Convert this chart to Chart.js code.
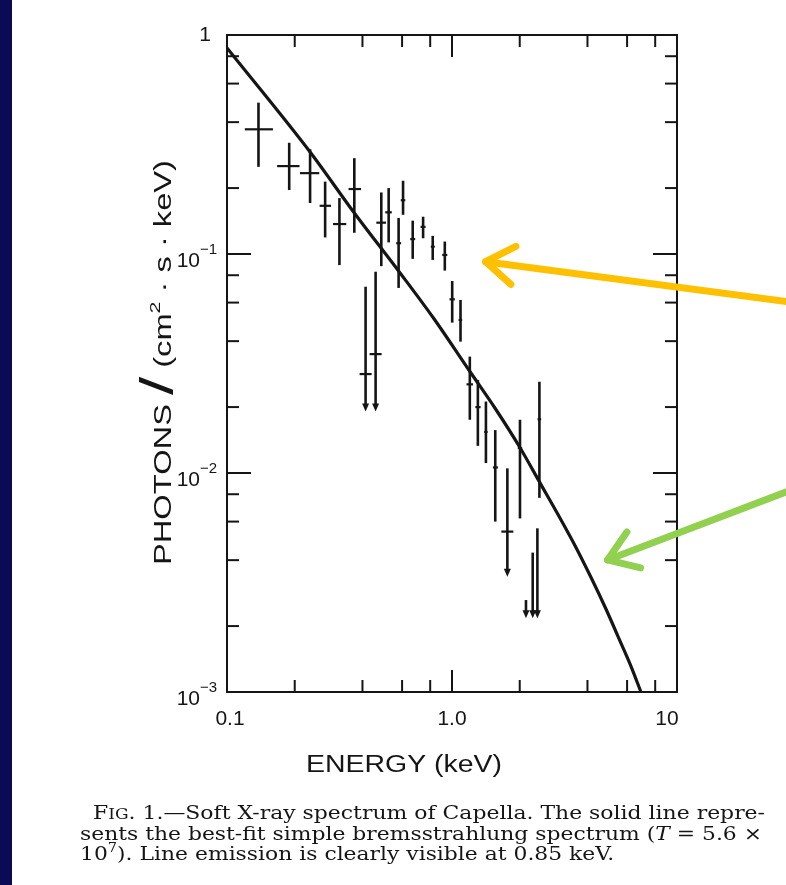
<!DOCTYPE html>
<html>
<head>
<meta charset="utf-8">
<script src="https://cdn.jsdelivr.net/npm/chart.js@4/dist/chart.umd.min.js"></script>
<style>
  html, body { margin: 0; padding: 0; background: #0b0b55; }
  canvas { display: block; }
</style>
</head>
<body>
<canvas id="spectrum" width="786" height="885"></canvas>
<script>
// Measured spectrum points (keV, photons / cm2 s keV) with bin and error limits
const energy   = [0.138, 0.189, 0.234, 0.273, 0.316, 0.368, 0.485, 0.523, 0.579, 0.606, 0.669, 0.744, 0.821, 0.929, 1.002, 1.091, 1.200, 1.303, 1.415, 1.557, 2.005, 2.446];
const energyLo = [0.120, 0.167, 0.211, 0.258, 0.296, 0.347, 0.461, 0.505, 0.565, 0.592, 0.652, 0.725, 0.805, 0.905, 0.975, 1.070, 1.160, 1.270, 1.390, 1.520, 1.960, 2.400];
const energyHi = [0.160, 0.210, 0.257, 0.290, 0.339, 0.394, 0.509, 0.540, 0.594, 0.620, 0.686, 0.763, 0.838, 0.953, 1.030, 1.110, 1.240, 1.340, 1.440, 1.600, 2.050, 2.490];
const flux     = [0.371, 0.252, 0.234, 0.166, 0.137, 0.198, 0.139, 0.155, 0.112, 0.176, 0.117, 0.133, 0.108, 0.099, 0.0621, 0.0500, 0.0254, 0.0200, 0.0154, 0.0106, 0.0130, 0.0176];
const fluxLo   = [0.250, 0.196, 0.171, 0.119, 0.089, 0.125, 0.088, 0.113, 0.070, 0.151, 0.095, 0.118, 0.094, 0.084, 0.0486, 0.0398, 0.0175, 0.0133, 0.0111, 0.0060, 0.0062, 0.0077];
const fluxHi   = [0.491, 0.322, 0.301, 0.214, 0.180, 0.274, 0.191, 0.200, 0.146, 0.216, 0.142, 0.148, 0.121, 0.114, 0.0753, 0.0617, 0.0340, 0.0266, 0.0212, 0.0157, 0.0175, 0.0261];

// Upper limits (arrows pointing down)
const limitEnergy = [0.413, 0.4576, 1.762, 2.132, 2.284, 2.396];
const limitTop    = [0.0709, 0.083, 0.0105, 0.00263, 0.00433, 0.00559];
const limitValue  = [0.0283, 0.0349, 0.0054, null, null, null];
const limitEnd    = [0.0191, 0.0191, 0.00336, 0.00217, 0.00217, 0.00217];

// Best-fit bremsstrahlung curve
const modelEnergy = [0.1, 0.234, 0.368, 0.590, 0.827, 1.197, 1.562, 1.998, 2.479, 2.951, 3.477, 4.140, 4.828, 5.460, 6.240, 6.913];
const modelFlux   = [0.872, 0.2922, 0.1539, 0.0815, 0.0510, 0.02922, 0.01960, 0.01314, 0.00890, 0.00650, 0.00478, 0.00335, 0.00240, 0.00180, 0.001314, 0.001];

// Axis ticks
const xMajor = [0.1, 1, 10];
const xMajorLabels = ['0.1', '1.0', '10'];
const xMinor = [0.2, 0.4, 0.6, 0.8, 2, 4, 6, 8];
const yMajor = [1, 0.1, 0.01, 0.001];
const yMajorExp = [null, '−1', '−2', '−3'];
const yMinor = [0.8, 0.6, 0.4, 0.2, 0.08, 0.06, 0.04, 0.02, 0.008, 0.006, 0.004, 0.002];

// Slide callout arrows: [tail energy, tail flux, tip energy, tip flux]
const calloutOrange = [30.9, 0.0606, 1.41, 0.0922];
const calloutGreen  = [30.9, 0.00822, 4.91, 0.00401];

const INK = '#151515';
const SANS = '"Liberation Sans", Arial, sans-serif';
const SERIF = '"DejaVu Serif", "Liberation Serif", serif';

// Draws text with a horizontal squeeze/stretch so that it spans `width`
function fitText(ctx, text, x, y, width, align) {
    const w = ctx.measureText(text).width;
    const k = width ? width / w : 1;
    ctx.save();
    ctx.translate(x, y);
    ctx.scale(k, 1);
    ctx.textAlign = 'left';
    const off = align === 'center' ? -w / 2 : align === 'right' ? -w : 0;
    ctx.fillText(text, off, 0);
    ctx.restore();
}

// Rich text runs: [{t, font, dy}]; scaled to `width`, or by `k` when width is null
function drawRuns(ctx, runs, x, y, width, k) {
    let total = 0;
    runs.forEach(r => { ctx.font = r.font; r.w = ctx.measureText(r.t).width; total += r.w; });
    const s = width ? width / total : (k || 1);
    ctx.save();
    ctx.translate(x, y);
    ctx.scale(s, 1);
    let cx = 0;
    runs.forEach(r => {
        ctx.font = r.font;
        ctx.fillText(r.t, cx, r.dy || 0);
        cx += r.w;
    });
    ctx.restore();
    return s;
}

const pagePlugin = {
    id: 'page',
    beforeDraw(chart) {
        const ctx = chart.ctx;
        ctx.save();
        ctx.fillStyle = '#0b0b55';
        ctx.fillRect(0, 0, chart.width, chart.height);
        ctx.fillStyle = '#ffffff';
        ctx.fillRect(12, 0, chart.width - 12, chart.height);
        ctx.restore();
    }
};

const errorBarPlugin = {
    id: 'errorBars',
    afterDatasetsDraw(chart) {
        const ctx = chart.ctx, xs = chart.scales.x, ys = chart.scales.y;
        ctx.save();
        ctx.strokeStyle = INK;
        ctx.fillStyle = INK;
        ctx.lineCap = 'butt';
        for (let i = 0; i < energy.length; i++) {
            const px = xs.getPixelForValue(energy[i]);
            const py = ys.getPixelForValue(flux[i]);
            ctx.lineWidth = 2.6;
            ctx.beginPath();
            ctx.moveTo(px, ys.getPixelForValue(fluxHi[i]));
            ctx.lineTo(px, ys.getPixelForValue(fluxLo[i]));
            ctx.stroke();
            ctx.lineWidth = 2.2;
            ctx.beginPath();
            ctx.moveTo(xs.getPixelForValue(energyLo[i]), py);
            ctx.lineTo(xs.getPixelForValue(energyHi[i]), py);
            ctx.stroke();
        }
        for (let i = 0; i < limitEnergy.length; i++) {
            const px = xs.getPixelForValue(limitEnergy[i]);
            const top = ys.getPixelForValue(limitTop[i]);
            const end = ys.getPixelForValue(limitEnd[i]);
            ctx.lineWidth = 2.6;
            ctx.beginPath();
            ctx.moveTo(px, top);
            ctx.lineTo(px, end - 6);
            ctx.stroke();
            ctx.beginPath();
            ctx.moveTo(px - 3.5, end - 8);
            ctx.lineTo(px + 3.5, end - 8);
            ctx.lineTo(px, end);
            ctx.closePath();
            ctx.fill();
            if (limitValue[i] !== null) {
                const py = ys.getPixelForValue(limitValue[i]);
                ctx.lineWidth = 2.2;
                ctx.beginPath();
                ctx.moveTo(px - 6, py);
                ctx.lineTo(px + 6, py);
                ctx.stroke();
            }
        }
        ctx.restore();
    }
};

const framePlugin = {
    id: 'frame',
    afterDraw(chart) {
        const ctx = chart.ctx, xs = chart.scales.x, ys = chart.scales.y;
        const a = chart.chartArea;
        ctx.save();
        ctx.strokeStyle = INK;
        ctx.lineWidth = 2;
        ctx.strokeRect(a.left, a.top, a.right - a.left, a.bottom - a.top);

        const tick = (x1, y1, x2, y2) => { ctx.beginPath(); ctx.moveTo(x1, y1); ctx.lineTo(x2, y2); ctx.stroke(); };
        xMajor.forEach(v => {
            const p = xs.getPixelForValue(v);
            tick(p, a.bottom, p, a.bottom - 22);
            tick(p, a.top, p, a.top + 22);
        });
        xMinor.forEach(v => {
            const p = xs.getPixelForValue(v);
            tick(p, a.bottom, p, a.bottom - 12);
            tick(p, a.top, p, a.top + 12);
        });
        yMajor.forEach(v => {
            const p = ys.getPixelForValue(v);
            tick(a.left, p, a.left + 24, p);
            tick(a.right, p, a.right - 24, p);
        });
        yMinor.forEach(v => {
            const p = ys.getPixelForValue(v);
            tick(a.left, p, a.left + 12, p);
            tick(a.right, p, a.right - 12, p);
        });

        // tick labels
        ctx.fillStyle = INK;
        ctx.textBaseline = 'middle';
        ctx.font = '21px ' + SANS;
        const xLabelShift = [3, 0, -10];
        xMajor.forEach((v, i) => {
            fitText(ctx, xMajorLabels[i], xs.getPixelForValue(v) + xLabelShift[i], a.bottom + 27, null, 'center');
        });
        yMajor.forEach((v, i) => {
            const p = ys.getPixelForValue(v);
            ctx.font = '21px ' + SANS;
            if (yMajorExp[i] === null) {
                fitText(ctx, '1', a.left - 22, p, null, 'center');
                return;
            }
            fitText(ctx, '10', a.left - 27, p + 7, null, 'right');
            ctx.font = '15px ' + SANS;
            fitText(ctx, yMajorExp[i], a.left - 27, p - 4, null, 'left');
        });

        // axis titles
        ctx.textBaseline = 'alphabetic';
        ctx.font = '23px ' + SANS;
        fitText(ctx, 'ENERGY (keV)', 404, 772, 196, 'center');

        ctx.save();
        ctx.translate(171, 565);
        ctx.rotate(-Math.PI / 2);
        drawRuns(ctx, [
            { t: 'PHOTONS ', font: '23px ' + SANS },
            { t: '/', font: '46px ' + SANS, dy: 2 },
            { t: ' (cm', font: '23px ' + SANS },
            { t: '2', font: '15px ' + SANS, dy: -11 },
            { t: ' · s · keV)', font: '23px ' + SANS }
        ], 0, 0, 405);
        ctx.restore();

        // figure caption
        const cap = '18px ' + SERIF;
        const capSmall = '14px ' + SERIF;
        drawRuns(ctx, [
            { t: 'F', font: cap },
            { t: 'IG', font: capSmall },
            { t: '. 1.—Soft X-ray spectrum of Capella. The solid line repre-', font: cap }
        ], 93, 819, 672);
        const k = drawRuns(ctx, [
            { t: 'sents the best-fit simple bremsstrahlung spectrum (', font: cap },
            { t: 'T', font: 'italic ' + cap },
            { t: ' = 5.6 ×', font: cap }
        ], 80, 840, 682);
        drawRuns(ctx, [
            { t: '10', font: cap },
            { t: '7', font: '12px ' + SERIF, dy: -8 },
            { t: '). Line emission is clearly visible at 0.85 keV.', font: cap }
        ], 80, 860, null, k);

        // slide callouts
        const arrow = (spec, color) => {
            const x1 = xs.getPixelForValue(spec[0]), y1 = ys.getPixelForValue(spec[1]);
            const x2 = xs.getPixelForValue(spec[2]), y2 = ys.getPixelForValue(spec[3]);
            const ang = Math.atan2(y2 - y1, x2 - x1);
            ctx.strokeStyle = color;
            ctx.lineWidth = 7;
            ctx.lineCap = 'round';
            ctx.lineJoin = 'round';
            ctx.beginPath();
            ctx.moveTo(x1, y1);
            ctx.lineTo(x2, y2);
            ctx.stroke();
            ctx.beginPath();
            ctx.moveTo(x2 - 34 * Math.cos(ang - 0.6), y2 - 34 * Math.sin(ang - 0.6));
            ctx.lineTo(x2, y2);
            ctx.lineTo(x2 - 34 * Math.cos(ang + 0.6), y2 - 34 * Math.sin(ang + 0.6));
            ctx.stroke();
        };
        arrow(calloutOrange, '#ffc000');
        arrow(calloutGreen, '#92d050');
        ctx.restore();
    }
};

const modelPoints = modelEnergy.map((e, i) => ({ x: e, y: modelFlux[i] }));
const dataPoints = energy.map((e, i) => ({ x: e, y: flux[i] }));

new Chart(document.getElementById('spectrum').getContext('2d'), {
    type: 'scatter',
    data: {
        datasets: [
            {
                label: 'Bremsstrahlung fit',
                data: modelPoints,
                showLine: true,
                borderColor: INK,
                borderWidth: 3.2,
                pointRadius: 0,
                cubicInterpolationMode: 'monotone'
            },
            {
                label: 'Capella',
                data: dataPoints,
                pointRadius: 0
            }
        ]
    },
    options: {
        responsive: false,
        animation: false,
        layout: { padding: { left: 227, right: 109, top: 35, bottom: 193 } },
        scales: {
            x: { type: 'logarithmic', min: 0.1, max: 10, display: false },
            y: { type: 'logarithmic', min: 0.001, max: 1, display: false }
        },
        plugins: {
            legend: { display: false },
            tooltip: { enabled: false }
        }
    },
    plugins: [pagePlugin, errorBarPlugin, framePlugin]
});
</script>
</body>
</html>
